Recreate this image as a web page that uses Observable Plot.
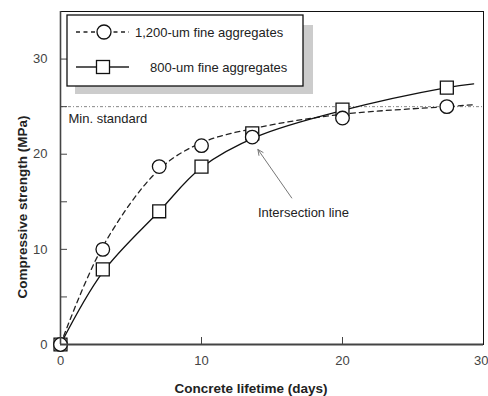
<!DOCTYPE html>
<html>
<head>
<meta charset="utf-8">
<script src="https://cdn.jsdelivr.net/npm/d3@7"></script>
<script src="https://cdn.jsdelivr.net/npm/@observablehq/plot@0.6"></script>
<style>
  html, body { margin: 0; padding: 0; background: #fff; }
  #chart svg { display: block; font-family: "Liberation Sans", Arial, sans-serif; }
</style>
</head>
<body>
<div id="chart"></div>
<script>
// ---- Data ----
const days = [0, 3, 7, 10, 13.6, 20, 27.4];
const strength1200 = [0, 10.0, 18.7, 20.9, 21.8, 23.8, 25.0];
const strength800 = [0, 7.9, 14.0, 18.7, 22.2, 24.7, 27.0];

// fitted (smooth) trend curves as drawn in the reference
const fitDays = [0, 3, 7, 10, 14, 20, 27.4, 29.3];
const fit1200 = [0, 10.3, 18.4, 21.2, 22.8, 24.2, 25.0, 25.2];
const fit800 = [0, 7.6, 14.0, 18.6, 21.9, 24.6, 27.0, 27.4];

const minStandard = 25;
const xLabelTicks = [0, 10, 20];
const xLastTick = [30];
const xInnerTicks = [10, 20];
const yLabelTicks = [0, 10, 20, 30];
const yInnerTicks = [5, 10, 15, 20, 25, 30];

const seriesNames = ["1,200-um fine aggregates", "800-um fine aggregates"];
const minLabel = "Min. standard";
const annotation = {text: "Intersection line", x: 14.0, y: 13.8, x1: 16.4, y1: 15.4, x2: 14.0, y2: 20.5};
const xTitle = "Concrete lifetime (days)";
const yTitle = "Compressive strength (MPa)";

// ---- Tables ----
const pts1200 = days.map((d, i) => ({x: d, y: strength1200[i]}));
const pts800 = days.map((d, i) => ({x: d, y: strength800[i]}));
const line1200 = fitDays.map((d, i) => ({x: d, y: fit1200[i]}));
const line800 = fitDays.map((d, i) => ({x: d, y: fit800[i]}));

// ---- Legend (drawn inside the frame) ----
function legend() {
  const g = d3.create("svg:g");
  g.append("rect").attr("x", 75).attr("y", 25).attr("width", 238).attr("height", 69).attr("fill", "#cccccc");
  g.append("rect").attr("x", 67).attr("y", 15).attr("width", 236).attr("height", 71)
    .attr("fill", "white").attr("stroke", "#111").attr("stroke-width", 1.3);
  // row 1: dashed + circle
  g.append("line").attr("x1", 76).attr("x2", 129).attr("y1", 32).attr("y2", 32)
    .attr("stroke", "#222").attr("stroke-width", 1.3).attr("stroke-dasharray", "4,3.5");
  g.append("circle").attr("cx", 104).attr("cy", 32).attr("r", 7)
    .attr("fill", "white").attr("stroke", "#111").attr("stroke-width", 1.3);
  g.append("text").attr("x", 135).attr("y", 32).attr("dy", "0.35em").attr("text-anchor", "start")
    .attr("font-size", 13).attr("fill", "#222").text(seriesNames[0]);
  // row 2: solid + square
  g.append("line").attr("x1", 76).attr("x2", 129).attr("y1", 67).attr("y2", 67)
    .attr("stroke", "#222").attr("stroke-width", 1.3);
  g.append("rect").attr("x", 96.5).attr("y", 60.5).attr("width", 13).attr("height", 13)
    .attr("fill", "white").attr("stroke", "#111").attr("stroke-width", 1.3);
  g.append("text").attr("x", 150).attr("y", 67).attr("dy", "0.35em").attr("text-anchor", "start")
    .attr("font-size", 13).attr("fill", "#222").text(seriesNames[1]);
  return g.node();
}

function titles() {
  const g = d3.create("svg:g").attr("font-weight", "bold").attr("font-size", 13.5).attr("fill", "#222");
  g.append("text").attr("x", 251).attr("y", 388).attr("text-anchor", "middle").attr("dy", "0.35em").text(xTitle);
  g.append("text").attr("transform", "translate(22,207) rotate(-90)").attr("text-anchor", "middle")
    .attr("dy", "0.35em").text(yTitle);
  return g.node();
}

const chart = Plot.plot({
  width: 488,
  height: 396,
  marginLeft: 60,
  marginRight: 5,
  marginTop: 11,
  marginBottom: 52,
  style: {fontFamily: "Liberation Sans, Arial, sans-serif", fontSize: "12px", background: "white"},
  x: {domain: [0, 30]},
  y: {domain: [0, 35]},
  marks: [
    // min standard line
    Plot.ruleY([minStandard], {stroke: "#888", strokeWidth: 1, strokeDasharray: "3,2,1,2"}),
    Plot.text([minLabel], {x: 0, y: minStandard, text: d => d, textAnchor: "start", dx: 8, dy: 12,
      fontSize: 13, fill: "#222"}),
    // trend curves
    Plot.line(line1200, {x: "x", y: "y", curve: "catmull-rom", stroke: "#222", strokeWidth: 1.3, strokeDasharray: "5,4"}),
    Plot.line(line800, {x: "x", y: "y", curve: "catmull-rom", stroke: "#111", strokeWidth: 1.3}),
    // markers
    Plot.dot(pts800, {x: "x", y: "y", symbol: "square", r: 7.3, fill: "white", stroke: "#111", strokeWidth: 1.3}),
    Plot.dot(pts1200, {x: "x", y: "y", symbol: "circle", r: 6.8, fill: "white", stroke: "#111", strokeWidth: 1.3}),
    // annotation
    Plot.arrow([annotation], {x1: "x1", y1: "y1", x2: "x2", y2: "y2", stroke: "#777", strokeWidth: 1,
      headLength: 9, headAngle: 50}),
    Plot.text([annotation], {x: "x", y: "y", text: "text", textAnchor: "start", fontSize: 13, fill: "#222"}),
    // frame and axes
    Plot.frame({stroke: "#111", strokeWidth: 1}),
    Plot.ruleX([0], {stroke: "#444", strokeWidth: 1.6}),
    Plot.ruleY([0], {stroke: "#444", strokeWidth: 2}),
    Plot.axisY(yInnerTicks, {tickSize: 7, dx: 7, tickFormat: () => "", label: null, stroke: "#444"}),
    Plot.axisY(yLabelTicks, {tickSize: 0, tickPadding: 13, label: null, fill: "#444", fontSize: 13}),
    Plot.axisX(xInnerTicks, {tickSize: 7, dy: -7, tickFormat: () => "", label: null, stroke: "#444"}),
    Plot.axisX(xLabelTicks, {tickSize: 0, tickPadding: 11, label: null, fill: "#444", fontSize: 13}),
    Plot.axisX(xLastTick, {tickSize: 0, tickPadding: 11, label: null, fill: "#444", fontSize: 13,
      textAnchor: "end", dx: 5}),
    // legend & titles
    legend,
    titles
  ]
});
document.getElementById("chart").appendChild(chart);
</script>
</body>
</html>
